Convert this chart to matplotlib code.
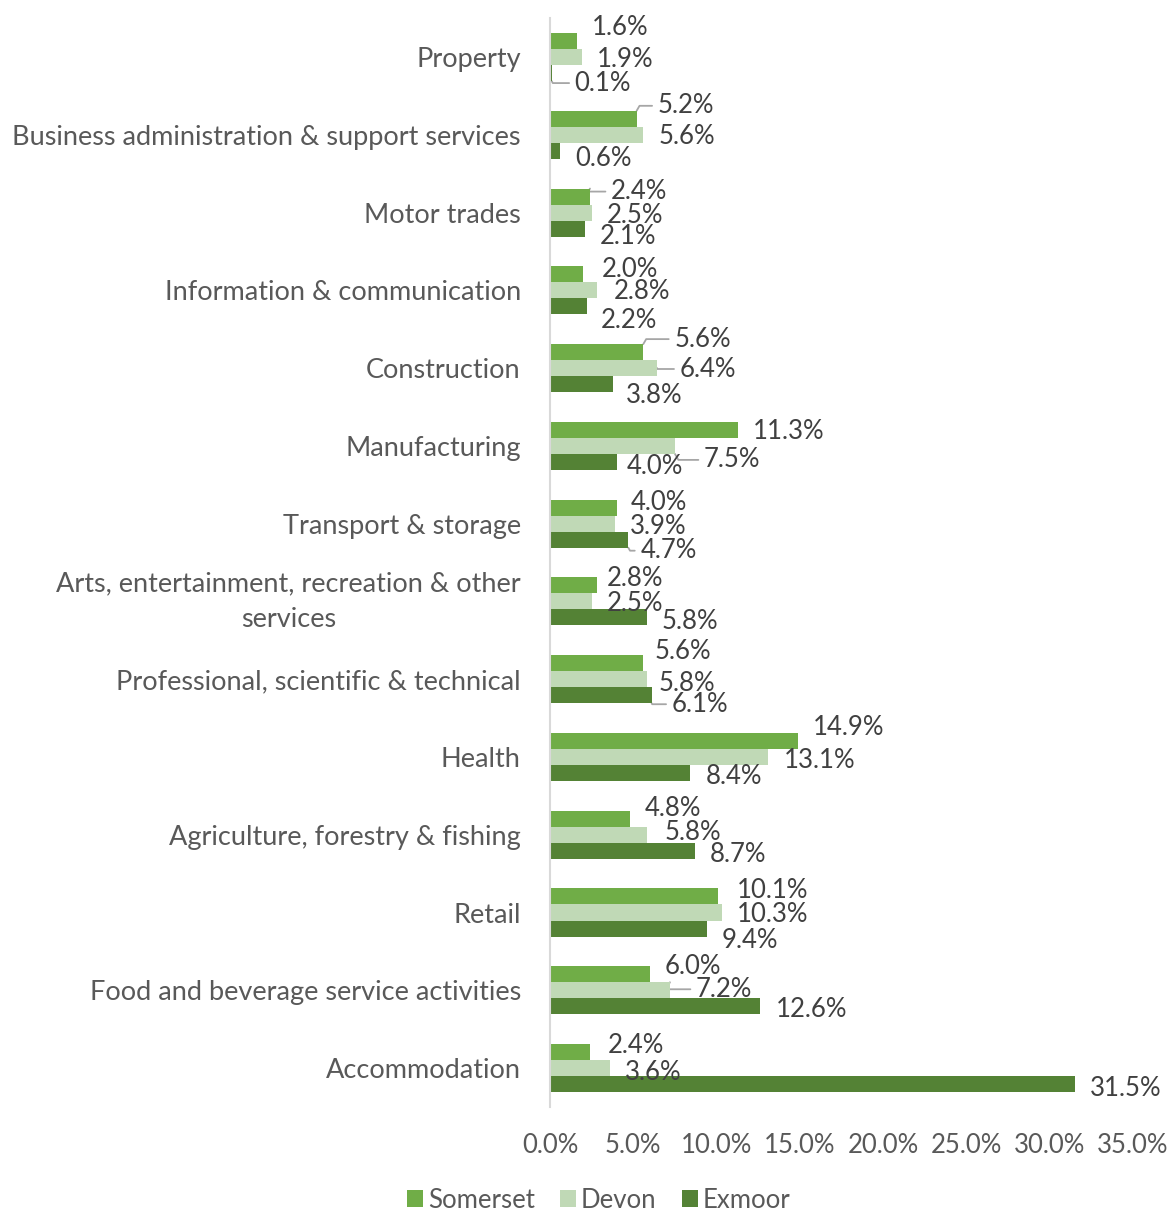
import numpy as np
import matplotlib
matplotlib.use("Agg")
import matplotlib.pyplot as plt
from matplotlib.ticker import FuncFormatter, MultipleLocator

plt.rcParams['font.family'] = ['Lato', 'DejaVu Sans']

# share of businesses by sector (%)
sectors = [
    "Property",
    "Business administration & support services",
    "Motor trades",
    "Information & communication",
    "Construction",
    "Manufacturing",
    "Transport & storage",
    "Arts, entertainment, recreation & other\nservices",
    "Professional, scientific & technical",
    "Health",
    "Agriculture, forestry & fishing",
    "Retail",
    "Food and beverage service activities",
    "Accommodation",
]
somerset = [1.6, 5.2, 2.4, 2.0, 5.6, 11.3, 4.0, 2.8, 5.6, 14.9, 4.8, 10.1, 6.0, 2.4]
devon = [1.9, 5.6, 2.5, 2.8, 6.4, 7.5, 3.9, 2.5, 5.8, 13.1, 5.8, 10.3, 7.2, 3.6]
exmoor = [0.1, 0.6, 2.1, 2.2, 3.8, 4.0, 4.7, 5.8, 6.1, 8.4, 8.7, 9.4, 12.6, 31.5]
series_names = ["Somerset", "Devon", "Exmoor"]

colors = ["#70AD47", "#C0D9B6", "#548235"]
bar_h = 0.206

# label nudges in pixels (dx right, dy down) from the bar end centre, and leader flags
label_dx = [
    [15, 21, 21, 18, 31, 15, 14, 10, 11, 15, 15, 19, 15, 18],
    [15, 15, 15, 17, 23, 29, 15, 15, 12, 16, 18, 15, 26, 15],
    [23, 15, 15, 14, 13, 10, 12, 15, 20, 16, 15, 15, 16, 15],
]
label_dy = [
    [-16, -15, -7, -7, -15, 0, -7, -9, -14, -15, -12, -8, -10, -9],
    [0, 0, 1, -1, -1, 12, 1, 0, 2, 2, -4, 0, -3, 2],
    [8, 6, 6, 12, 9, 3, 9, 2, 7, 2, 2, 10, 1, 2],
]
leader = [
    [0, 1, 1, 0, 1, 0, 0, 0, 0, 0, 0, 0, 0, 0],
    [0, 0, 0, 0, 1, 1, 0, 0, 0, 0, 0, 0, 1, 0],
    [1, 0, 0, 0, 0, 0, 1, 0, 1, 0, 0, 0, 0, 0],
]
# Lato's bbox centre sits a little above the digits' visual centre
text_drop = 2

fig = plt.figure(figsize=(11.72, 12.12), dpi=100)
ax = fig.add_axes([0.4693, 0.0867, 0.4974, 0.8983])
ax.set_ylim(len(sectors) - 0.5, -0.5)
ax.set_xlim(0, 35)

# half a bar's height in pixels, used to hook leader lines onto bar corners
p0 = ax.transData.transform((0, 0))
p1 = ax.transData.transform((0, bar_h / 2))
half_px = abs(p1[1] - p0[1])

y = np.arange(len(sectors))
values = [somerset, devon, exmoor]
for k, vals in enumerate(values):
    ypos = y + (k - 1) * bar_h
    ax.barh(ypos, vals, height=bar_h, color=colors[k], label=series_names[k], zorder=2)
    for i, v in enumerate(vals):
        dx = label_dx[k][i]
        dy = label_dy[k][i] + text_drop
        if leader[k][i]:
            if abs(label_dy[k][i]) < 3:
                yb, shift, ang = ypos[i], 0, 90
            elif dy < 0:
                yb, shift, ang = ypos[i] - bar_h / 2, -half_px, 60
            else:
                yb, shift, ang = ypos[i] + bar_h / 2, half_px, 120
            ax.annotate(f"{v:.1f}%", xy=(v, yb), xytext=(dx, -(dy - shift)),
                        textcoords="offset pixels", ha="left", va="center",
                        fontsize=18.5, color="#404040", zorder=1,
                        arrowprops=dict(arrowstyle="-", color="#a6a6a6", lw=1.3,
                                        shrinkA=2, shrinkB=0, relpos=(0, 0.5),
                                        connectionstyle=f"angle,angleA=0,angleB={ang},rad=0"))
        else:
            ax.annotate(f"{v:.1f}%", xy=(v, ypos[i]), xytext=(dx, -dy),
                        textcoords="offset pixels", ha="left", va="center",
                        fontsize=18.5, color="#404040", zorder=3)

ax.xaxis.set_major_locator(MultipleLocator(5))
ax.xaxis.set_major_formatter(FuncFormatter(lambda v, p: f"{v:.1f}%"))
ax.set_yticks(y)
ax.set_yticklabels(sectors, fontsize=19.5)
for lab in ax.get_yticklabels():
    lab.set_multialignment("center")
    if "\n" in lab.get_text():
        # two-line label: open up the spacing and centre the block on its tick
        lab.set_linespacing(1.55)
        lab.set_verticalalignment("center")
ax.tick_params(axis="both", length=0, labelcolor="#595959")
ax.tick_params(axis="x", labelsize=18.5, pad=19)
ax.tick_params(axis="y", pad=21)

for side in ["top", "right", "bottom"]:
    ax.spines[side].set_visible(False)
ax.spines["left"].set_color("#d9d9d9")
ax.spines["left"].set_linewidth(1.5)

fig.legend(loc="center", bbox_to_anchor=(599 / 1172, 1 - 1200 / 1212), ncol=3,
           frameon=False, fontsize=18.5, labelcolor="#595959",
           handlelength=0.6, handleheight=0.6, handletextpad=0.2, columnspacing=1.0)

fig.savefig("out.png", dpi=100)
